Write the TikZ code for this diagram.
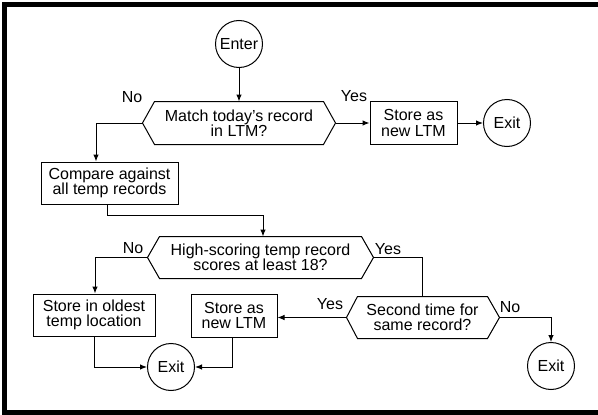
\documentclass[tikz,border=0pt]{standalone}
\usepackage{fontspec}
\setmainfont{Liberation Sans}
\usetikzlibrary{arrows.meta,calc}
\begin{document}
\begin{tikzpicture}[x=1pt,y=-1pt,
  font=\fontsize{16}{15.5}\selectfont,
  line width=1pt,
  box/.style={draw, minimum width=#1, minimum height=42pt, inner sep=0pt, align=center},
  term/.style={draw, circle, minimum size=47pt, inner sep=0pt},
  body/.style={minimum width=#1, minimum height=41pt, inner sep=0pt, align=center},
  arr/.style={-{Latex[length=7pt,width=5.5pt]}},
  lbl/.style={inner sep=0pt}]
\useasboundingbox (0,0) rectangle (598,415);
\draw[line width=5pt] (600,4.5) -- (4.5,4.5) -- (4.5,412.5) -- (600,412.5);

% terminals
\node[term] (enter) at (239,44) {Enter};
\node[term] (exit1) at (507,123) {Exit};
\node[term] (exit2) at (171,367) {Exit};
\node[term] (exit3) at (551,366) {Exit};

% boxes
\node[box=87, minimum height=43pt] (st1) at (413.5,123) {Store as\\new LTM};
\node[box=137] (cmp) at (109.5,183) {Compare against\\all temp records};
\node[box=122] (old) at (94,315) {Store in oldest\\temp location};
\node[box=86, minimum height=43pt] (st2) at (234,315.5) {Store as\\new LTM};

% decisions
\node[body=168, minimum height=42pt] (d1) at (239,123) {Match today's record\\in LTM?};
\draw (d1.north west) -- (d1.north east) -- ($(d1.east)+(12,0)$) -- (d1.south east)
  -- (d1.south west) -- ($(d1.west)+(-12,0)$) -- cycle;
\coordinate (d1L) at ($(d1.west)+(-12,0)$);
\coordinate (d1R) at ($(d1.east)+(12,0)$);

\node[body=201] (d2) at (260.5,257.5) {High-scoring temp record\\scores at least 18?};
\draw (d2.north west) -- (d2.north east) -- ($(d2.east)+(12,0)$) -- (d2.south east)
  -- (d2.south west) -- ($(d2.west)+(-12,0)$) -- cycle;
\coordinate (d2L) at ($(d2.west)+(-12,0)$);
\coordinate (d2R) at ($(d2.east)+(12,0)$);

\node[body=129] (d3) at (422.5,317.5) {Second time for\\same record?};
\draw (d3.north west) -- (d3.north east) -- ($(d3.east)+(12,0)$) -- (d3.south east)
  -- (d3.south west) -- ($(d3.west)+(-11,0)$) -- cycle;
\coordinate (d3L) at ($(d3.west)+(-11,0)$);
\coordinate (d3R) at ($(d3.east)+(12,0)$);

% connectors
\draw[arr] (enter) -- (d1.north);
\draw[arr] (d1L) -| ([xshift=-13.5pt]cmp.north);
\draw[arr] (d1R) -- (st1.west);
\draw[arr] (st1) -- (exit1);
\draw[arr] ([xshift=-2.5pt]cmp.south) -- ++(0,11) -| ([xshift=2.5pt]d2.north);
\draw[arr] (d2L) -| ([xshift=1pt]old.north);
\draw (d2R) -| (d3.north);
\draw[arr] (d3L) -- (d3L -| st2.east);
\draw[arr] (d3R) -| (exit3.north);
\draw[arr] (old.south) |- (exit2.west);
\draw[arr] ([xshift=-2pt]st2.south) |- (exit2.east);

% labels
\node[lbl] (l1) at (132,97) {No};
\node[lbl] (l2) at (354,96) {Yes};
\node[lbl] (l3) at (133,248) {No};
\node[lbl] (l4) at (388,249) {Yes};
\node[lbl] (l5) at (330,304) {Yes};
\node[lbl] (l6) at (510,307) {No};
\end{tikzpicture}
\end{document}
